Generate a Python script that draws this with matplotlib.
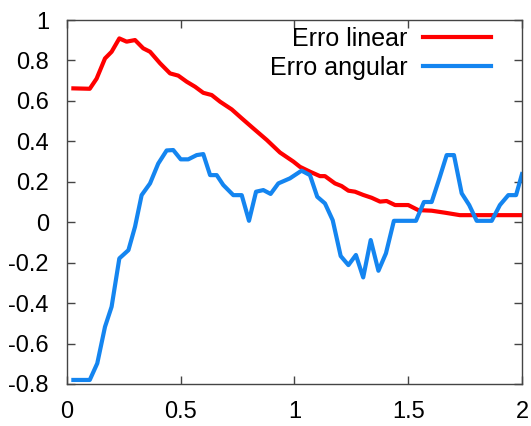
import matplotlib
matplotlib.use("Agg")
import matplotlib.pyplot as plt

# Erro linear
lin_x = [0.028, 0.10, 0.13, 0.167, 0.196, 0.23, 0.262, 0.299, 0.335, 0.365, 0.409, 0.453,
         0.489, 0.526, 0.563, 0.599, 0.636, 0.673, 0.724, 0.768, 0.819, 0.878, 0.936, 0.995,
         1.024, 1.068, 1.112, 1.134, 1.178, 1.207, 1.237, 1.266, 1.302, 1.339, 1.376, 1.405,
         1.442, 1.50, 1.544, 1.603, 1.662, 1.727, 2.0]
lin_y = [0.662, 0.66, 0.71, 0.81, 0.843, 0.909, 0.893, 0.901, 0.86, 0.843, 0.786, 0.736,
         0.725, 0.695, 0.67, 0.64, 0.629, 0.596, 0.558, 0.514, 0.464, 0.407, 0.345, 0.30,
         0.274, 0.25, 0.228, 0.228, 0.192, 0.179, 0.156, 0.151, 0.135, 0.121, 0.102, 0.105,
         0.085, 0.085, 0.06, 0.057, 0.047, 0.035, 0.035]

# Erro angular
ang_x = [0.028, 0.10, 0.133, 0.167, 0.196, 0.23, 0.27, 0.299, 0.328, 0.365, 0.401, 0.438,
         0.467, 0.50, 0.533, 0.57, 0.599, 0.629, 0.658, 0.687, 0.731, 0.768, 0.80, 0.831,
         0.863, 0.895, 0.929, 0.98, 1.031, 1.068, 1.10, 1.134, 1.168, 1.203, 1.237, 1.27,
         1.302, 1.335, 1.369, 1.402, 1.437, 1.534, 1.569, 1.603, 1.637, 1.669, 1.701, 1.735,
         1.768, 1.801, 1.867, 1.903, 1.94, 1.974, 2.0]
ang_y = [-0.78, -0.78, -0.698, -0.517, -0.418, -0.179, -0.138, -0.022, 0.134, 0.192, 0.29, 0.355,
         0.357, 0.311, 0.311, 0.332, 0.337, 0.233, 0.233, 0.184, 0.134, 0.134, 0.007, 0.151,
         0.159, 0.14, 0.192, 0.217, 0.255, 0.233, 0.126, 0.093, 0.01, -0.167, -0.212, -0.162,
         -0.273, -0.088, -0.24, -0.154, 0.007, 0.007, 0.10, 0.10, 0.217, 0.332, 0.332, 0.143,
         0.085, 0.007, 0.007, 0.085, 0.134, 0.134, 0.238]

xticks = [0, 0.5, 1, 1.5, 2]
xticklabels = ["0", "0.5", "1", "1.5", "2"]
yticks = [-0.8, -0.6, -0.4, -0.2, 0, 0.2, 0.4, 0.6, 0.8, 1]
yticklabels = ["-0.8", "-0.6", "-0.4", "-0.2", "0", "0.2", "0.4", "0.6", "0.8", "1"]

plt.rcParams['font.family'] = ['Liberation Sans', 'DejaVu Sans']

fig = plt.figure(figsize=(5.31, 4.26), dpi=100)
ax = fig.add_axes([0.1262, 0.0986, 0.983 - 0.1262, 0.953 - 0.0986])

ax.plot(lin_x, lin_y, color='#ff0000', lw=3.0, label='Erro linear', solid_joinstyle='round')
ax.plot(ang_x, ang_y, color='#1485f0', lw=3.0, label='Erro angular', solid_joinstyle='round')

ax.set_xlim(0, 2)
ax.set_ylim(-0.8, 1)
ax.set_xticks(xticks)
ax.set_xticklabels(xticklabels)
ax.set_yticks(yticks)
ax.set_yticklabels(yticklabels)
ax.tick_params(direction='in', length=6, width=1, color='#444444', labelsize=17,
               top=True, right=True)
ax.tick_params(axis='x', pad=12)
ax.tick_params(axis='y', pad=13)
for s in ax.spines.values():
    s.set_color('#444444')
    s.set_linewidth(1)

leg = ax.legend(loc='upper right', bbox_to_anchor=(0.955, 1.008), frameon=False,
                markerfirst=False, fontsize=18, handlelength=2.72, handletextpad=0.64,
                labelspacing=0.2, borderaxespad=0)

fig.savefig('out.png', dpi=100)
